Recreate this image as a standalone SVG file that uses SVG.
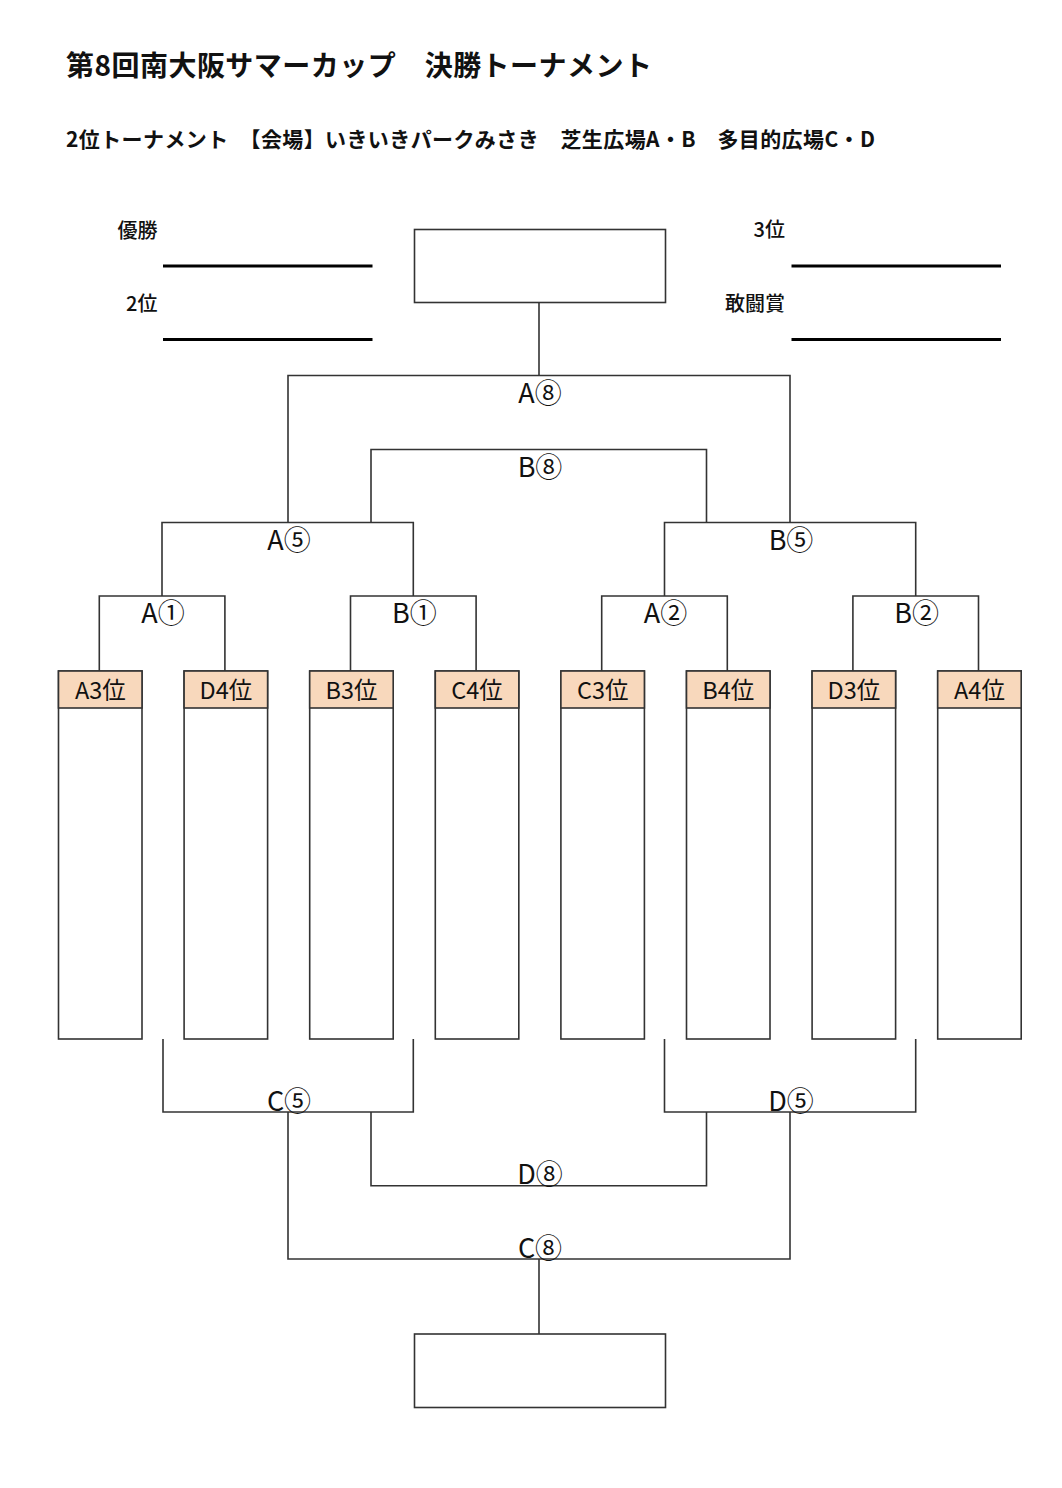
<svg xmlns="http://www.w3.org/2000/svg" width="1062" height="1488" viewBox="0 0 1062 1488">
<style>
text { font-family: "Noto Sans CJK JP", "Noto Sans", sans-serif; fill: #111; }
.title { font-size: 28px; font-weight: 700; }
.sub { font-size: 21px; font-weight: 700; }
.award { font-size: 20px; font-weight: 500; text-anchor: end; }
.match { font-size: 27px; text-anchor: middle; }
.team { font-size: 23.5px; text-anchor: middle; }
.box { fill: #fff; stroke: #333; stroke-width: 1.6; }
.hdr { fill: #F8D8BC; stroke: #333; stroke-width: 1.6; }
#connectors path { fill: none; stroke: #333; stroke-width: 1.6; }
.uline { stroke: #000; stroke-width: 3.2; }
</style>
<rect width="1062" height="1488" fill="#fff"/>

<g id="header">
  <text class="title" x="66" y="76" textLength="586">第8回南大阪サマーカップ　決勝トーナメント</text>
  <text class="sub" x="66" y="147" textLength="809">2位トーナメント　【会場】いきいきパークみさき　芝生広場A・B　多目的広場C・D</text>
</g>

<g id="awards">
  <text class="award" x="157.5" y="237.5">優勝</text>
  <line class="uline" x1="163" y1="266" x2="372.5" y2="266"/>
  <text class="award" x="157.5" y="310.5">2位</text>
  <line class="uline" x1="163" y1="339.5" x2="372.5" y2="339.5"/>
  <text class="award" x="785" y="237">3位</text>
  <line class="uline" x1="791.5" y1="266" x2="1001" y2="266"/>
  <text class="award" x="785" y="311">敢闘賞</text>
  <line class="uline" x1="791.5" y1="339.5" x2="1001" y2="339.5"/>
</g>

<g id="connectors">
  <path d="M539 302.5 V375.5"/>
  <path d="M288 522.5 V375.5 H790 V522.5"/>
  <path d="M371 522.5 V449.5 H706.5 V522.5"/>
  <path d="M162 596 V522.5 H413.3 V596"/>
  <path d="M664.5 596 V522.5 H915.7 V596"/>
  <path d="M99.3 671 V596 H224.9 V671"/>
  <path d="M350.5 671 V596 H476.1 V671"/>
  <path d="M601.7 671 V596 H727.3 V671"/>
  <path d="M852.9 671 V596 H978.5 V671"/>
  <path d="M163 1039 V1112 H413.3 V1039"/>
  <path d="M664.5 1039 V1112 H915.7 V1039"/>
  <path d="M371 1112 V1185.7 H706.5 V1112"/>
  <path d="M288 1112 V1259 H790 V1112"/>
  <path d="M539 1259 V1334"/>
</g>

<g id="match-labels">
  <text class="match" x="540" y="402.5">A⑧</text>
  <text class="match" x="540" y="476.5">B⑧</text>
  <text class="match" x="289" y="549.5">A⑤</text>
  <text class="match" x="791" y="549.5">B⑤</text>
  <text class="match" x="163" y="623">A①</text>
  <text class="match" x="414.3" y="623">B①</text>
  <text class="match" x="665.5" y="623">A②</text>
  <text class="match" x="916.7" y="623">B②</text>
  <text class="match" x="289" y="1110.5">C⑤</text>
  <text class="match" x="791" y="1110.5">D⑤</text>
  <text class="match" x="540" y="1184">D⑧</text>
  <text class="match" x="540" y="1257.5">C⑧</text>
</g>

<g id="final-top"><rect class="box" x="414.5" y="229.5" width="251" height="73"/></g>
<g id="final-bottom"><rect class="box" x="414.5" y="1334" width="251" height="73.5"/></g>

<g id="team-A3"><rect class="box" x="58.5" y="671" width="83.5" height="368"/><rect class="hdr" x="58.5" y="671" width="83.5" height="37"/><text class="team" x="100.3" y="698.5">A3位</text></g>
<g id="team-D4"><rect class="box" x="184.1" y="671" width="83.5" height="368"/><rect class="hdr" x="184.1" y="671" width="83.5" height="37"/><text class="team" x="225.9" y="698.5">D4位</text></g>
<g id="team-B3"><rect class="box" x="309.7" y="671" width="83.5" height="368"/><rect class="hdr" x="309.7" y="671" width="83.5" height="37"/><text class="team" x="351.5" y="698.5">B3位</text></g>
<g id="team-C4"><rect class="box" x="435.3" y="671" width="83.5" height="368"/><rect class="hdr" x="435.3" y="671" width="83.5" height="37"/><text class="team" x="477.1" y="698.5">C4位</text></g>
<g id="team-C3"><rect class="box" x="560.9" y="671" width="83.5" height="368"/><rect class="hdr" x="560.9" y="671" width="83.5" height="37"/><text class="team" x="602.7" y="698.5">C3位</text></g>
<g id="team-B4"><rect class="box" x="686.5" y="671" width="83.5" height="368"/><rect class="hdr" x="686.5" y="671" width="83.5" height="37"/><text class="team" x="728.3" y="698.5">B4位</text></g>
<g id="team-D3"><rect class="box" x="812.1" y="671" width="83.5" height="368"/><rect class="hdr" x="812.1" y="671" width="83.5" height="37"/><text class="team" x="853.9" y="698.5">D3位</text></g>
<g id="team-A4"><rect class="box" x="937.7" y="671" width="83.5" height="368"/><rect class="hdr" x="937.7" y="671" width="83.5" height="37"/><text class="team" x="979.5" y="698.5">A4位</text></g>
</svg>
